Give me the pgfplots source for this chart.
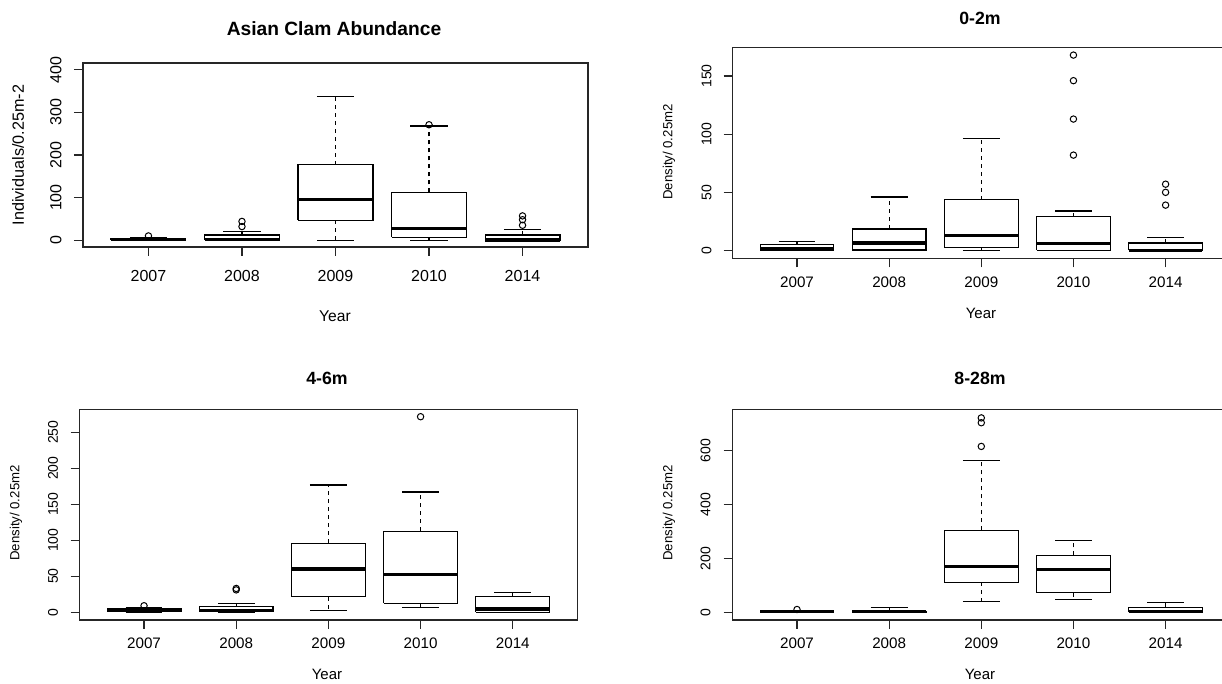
\documentclass[border=0pt]{standalone}
\usepackage{fontspec}
\setmainfont{Liberation Sans}
\usepackage{pgfplots}
\pgfplotsset{compat=1.18}
\pgfplotsset{
  rbox/.style={
    scale only axis, anchor=south west,
    xmin=0.3, xmax=5.7, unbounded coords=jump,
    xtick={1,2,3,4,5}, xticklabels={2007,2008,2009,2010,2014},
    tick align=outside, xtick pos=left, ytick pos=left,
    major tick length=4.5pt,
    /pgf/number format/assume math mode=true,
    axis line style={line width=0.6pt, black!85},
    tick style={line width=0.6pt, black!85},
    yticklabel style={rotate=90, anchor=south, inner sep=0pt},
    xticklabel style={anchor=north, inner sep=0pt},
  },
  bxs/.style={black, line width=0.6pt, solid, mark=none},
  med/.style={black, line width=1.6pt, solid, mark=none},
  wsk/.style={black, line width=0.6pt, dash pattern=on 2pt off 2pt, mark=none},
  outl/.style={black, only marks, mark=o, mark size=1.6pt, mark options={line width=0.5pt, solid}},
}
\begin{document}
\begin{tikzpicture}
% ---------- Panel 1: Asian Clam Abundance ----------
% five-number summaries (lw, lq, med, uq, uw):
% 2007: 0 0.5 2 4 7 | 2008: 0 0.5 2 12 20 | 2009: 0 47 96 177 338 | 2010: 0 7 28 112 268 | 2014: 0 0 0.5 12 26
\begin{axis}[rbox, at={(41.5pt,218.5pt)}, width=252.5pt, height=92pt,
  ymin=-16, ymax=416, ytick={0,100,200,300,400},
  ticklabel style={font=\fontsize{8}{9}\selectfont},
  xticklabel shift=7.2pt, yticklabel shift=6pt]
\addplot[wsk] coordinates {(1,4)(1,7) (nan,nan) (1,0.5)(1,0) (nan,nan) (2,12)(2,20) (nan,nan) (2,0.5)(2,0) (nan,nan)
  (3,177)(3,338) (nan,nan) (3,47)(3,0) (nan,nan) (4,112)(4,268) (nan,nan) (4,7)(4,0) (nan,nan) (5,12)(5,26)};
\addplot[bxs] coordinates {(0.8,7)(1.2,7) (nan,nan) (0.8,0)(1.2,0) (nan,nan) (1.8,20)(2.2,20) (nan,nan) (1.8,0)(2.2,0) (nan,nan)
  (2.8,338)(3.2,338) (nan,nan) (2.8,0)(3.2,0) (nan,nan) (3.8,268)(4.2,268) (nan,nan) (3.8,0)(4.2,0) (nan,nan) (4.8,26)(5.2,26) (nan,nan) (4.8,0)(5.2,0)};
\addplot[bxs] coordinates {(0.6,0.5)(1.4,0.5)(1.4,4)(0.6,4)(0.6,0.5) (nan,nan)
  (1.6,0.5)(2.4,0.5)(2.4,12)(1.6,12)(1.6,0.5) (nan,nan)
  (2.6,47)(3.4,47)(3.4,177)(2.6,177)(2.6,47) (nan,nan)
  (3.6,7)(4.4,7)(4.4,112)(3.6,112)(3.6,7) (nan,nan)
  (4.6,0)(5.4,0)(5.4,12)(4.6,12)(4.6,0)};
\addplot[med] coordinates {(0.6,2)(1.4,2) (nan,nan) (1.6,2)(2.4,2) (nan,nan) (2.6,96)(3.4,96) (nan,nan) (3.6,28)(4.4,28) (nan,nan) (4.6,0.5)(5.4,0.5)};
\addplot[outl] coordinates {(1,10) (2,32) (2,44) (4,271) (5,35) (5,48) (5,57)};
\end{axis}
% ---------- Panel 2: 0-2m ----------
% 2007: 0 0.3 2 5 8 | 2008: 0 0.5 6.4 18.5 46 | 2009: 0 2.6 13 43.6 96 | 2010: 0 0.3 5.8 29 34 | 2014: 0 0 0.3 6.4 11
\begin{axis}[rbox, at={(366.25pt,212.85pt)}, width=248.8pt, height=105.5pt,
  ymin=-6.7, ymax=174.7, ytick={0,50,100,150},
  xticklabel style={font=\fontsize{7.6}{9}\selectfont},
  yticklabel style={font=\fontsize{7}{8}\selectfont},
  xticklabel shift=4.35pt, yticklabel shift=5.8pt]
\addplot[wsk] coordinates {(1,5)(1,8) (nan,nan) (2,18.5)(2,46) (nan,nan) (2,0.5)(2,0) (nan,nan)
  (3,43.6)(3,96) (nan,nan) (3,2.6)(3,0) (nan,nan) (4,29)(4,34) (nan,nan) (5,6.4)(5,11)};
\addplot[bxs] coordinates {(0.8,8)(1.2,8) (nan,nan) (0.8,0)(1.2,0) (nan,nan) (1.8,46)(2.2,46) (nan,nan) (1.8,0)(2.2,0) (nan,nan)
  (2.8,96)(3.2,96) (nan,nan) (2.8,0)(3.2,0) (nan,nan) (3.8,34)(4.2,34) (nan,nan) (3.8,0)(4.2,0) (nan,nan) (4.8,11)(5.2,11) (nan,nan) (4.8,0)(5.2,0)};
\addplot[bxs] coordinates {(0.6,0.3)(1.4,0.3)(1.4,5)(0.6,5)(0.6,0.3) (nan,nan)
  (1.6,0.5)(2.4,0.5)(2.4,18.5)(1.6,18.5)(1.6,0.5) (nan,nan)
  (2.6,2.6)(3.4,2.6)(3.4,43.6)(2.6,43.6)(2.6,2.6) (nan,nan)
  (3.6,0.3)(4.4,0.3)(4.4,29)(3.6,29)(3.6,0.3) (nan,nan)
  (4.6,0)(5.4,0)(5.4,6.4)(4.6,6.4)(4.6,0)};
\addplot[med] coordinates {(0.6,2)(1.4,2) (nan,nan) (1.6,6.4)(2.4,6.4) (nan,nan) (2.6,13)(3.4,13) (nan,nan) (3.6,5.8)(4.4,5.8) (nan,nan) (4.6,0.3)(5.4,0.3)};
\addplot[outl] coordinates {(4,82) (4,113) (4,146) (4,168) (5,39) (5,50) (5,57)};
\end{axis}
% ---------- Panel 3: 4-6m ----------
% 2007: 0 1 3 5 6 | 2008: 0 0.5 2 7.4 12.5 | 2009: 2.8 21.4 60 95.8 176.7 | 2010: 7 12.5 52 112.5 167 | 2014: 0 0 4.6 21.4 27.5
\begin{axis}[rbox, at={(39.75pt,32pt)}, width=248.9pt, height=105.35pt,
  ymin=-10.8, ymax=281.8, ytick={0,50,100,150,200,250},
  xticklabel style={font=\fontsize{7.6}{9}\selectfont},
  yticklabel style={font=\fontsize{7}{8}\selectfont},
  xticklabel shift=4.35pt, yticklabel shift=6.1pt]
\addplot[wsk] coordinates {(1,5)(1,6) (nan,nan) (1,1)(1,0) (nan,nan) (2,7.4)(2,12.5) (nan,nan) (2,0.5)(2,0) (nan,nan)
  (3,95.8)(3,176.7) (nan,nan) (3,21.4)(3,2.8) (nan,nan) (4,112.5)(4,167) (nan,nan) (4,12.5)(4,7) (nan,nan) (5,21.4)(5,27.5)};
\addplot[bxs] coordinates {(0.8,6)(1.2,6) (nan,nan) (0.8,0)(1.2,0) (nan,nan) (1.8,12.5)(2.2,12.5) (nan,nan) (1.8,0)(2.2,0) (nan,nan)
  (2.8,176.7)(3.2,176.7) (nan,nan) (2.8,2.8)(3.2,2.8) (nan,nan) (3.8,167)(4.2,167) (nan,nan) (3.8,7)(4.2,7) (nan,nan) (4.8,27.5)(5.2,27.5) (nan,nan) (4.8,0)(5.2,0)};
\addplot[bxs] coordinates {(0.6,1)(1.4,1)(1.4,5)(0.6,5)(0.6,1) (nan,nan)
  (1.6,0.5)(2.4,0.5)(2.4,7.4)(1.6,7.4)(1.6,0.5) (nan,nan)
  (2.6,21.4)(3.4,21.4)(3.4,95.8)(2.6,95.8)(2.6,21.4) (nan,nan)
  (3.6,12.5)(4.4,12.5)(4.4,112.5)(3.6,112.5)(3.6,12.5) (nan,nan)
  (4.6,0)(5.4,0)(5.4,21.4)(4.6,21.4)(4.6,0)};
\addplot[med] coordinates {(0.6,3)(1.4,3) (nan,nan) (1.6,2)(2.4,2) (nan,nan) (2.6,60)(3.4,60) (nan,nan) (3.6,52)(4.4,52) (nan,nan) (4.6,4.6)(5.4,4.6)};
\addplot[outl] coordinates {(1,9) (2,31) (2,33) (4,271.5)};
\end{axis}
% ---------- Panel 4: 8-28m ----------
% 2007: 0 1 2 3 5 | 2008: 0 0.5 2 4 16 | 2009: 41 111.6 171 304 563 | 2010: 46 73 159 211 266.6 | 2014: 0 0 2.6 17.5 36
\begin{axis}[rbox, at={(366.25pt,32pt)}, width=248.8pt, height=105.35pt,
  ymin=-29, ymax=754, ytick={0,200,400,600},
  xticklabel style={font=\fontsize{7.6}{9}\selectfont},
  yticklabel style={font=\fontsize{7}{8}\selectfont},
  xticklabel shift=4.35pt, yticklabel shift=6.3pt]
\addplot[wsk] coordinates {(2,4)(2,16) (nan,nan)
  (3,304)(3,563) (nan,nan) (3,111.6)(3,41) (nan,nan) (4,211)(4,266.6) (nan,nan) (4,73)(4,46) (nan,nan) (5,17.5)(5,36)};
\addplot[bxs] coordinates {(0.8,5)(1.2,5) (nan,nan) (0.8,0)(1.2,0) (nan,nan) (1.8,16)(2.2,16) (nan,nan) (1.8,0)(2.2,0) (nan,nan)
  (2.8,563)(3.2,563) (nan,nan) (2.8,41)(3.2,41) (nan,nan) (3.8,266.6)(4.2,266.6) (nan,nan) (3.8,46)(4.2,46) (nan,nan) (4.8,36)(5.2,36) (nan,nan) (4.8,0)(5.2,0)};
\addplot[bxs] coordinates {(0.6,1)(1.4,1)(1.4,3)(0.6,3)(0.6,1) (nan,nan)
  (1.6,0.5)(2.4,0.5)(2.4,4)(1.6,4)(1.6,0.5) (nan,nan)
  (2.6,111.6)(3.4,111.6)(3.4,304)(2.6,304)(2.6,111.6) (nan,nan)
  (3.6,73)(4.4,73)(4.4,211)(3.6,211)(3.6,73) (nan,nan)
  (4.6,0)(5.4,0)(5.4,17.5)(4.6,17.5)(4.6,0)};
\addplot[med] coordinates {(0.6,2)(1.4,2) (nan,nan) (1.6,2)(2.4,2) (nan,nan) (2.6,171)(3.4,171) (nan,nan) (3.6,159)(4.4,159) (nan,nan) (4.6,2.6)(5.4,2.6)};
\addplot[outl] coordinates {(1,10) (3,616) (3,704) (3,722)};
\end{axis}
% ---------- Titles and labels ----------
\node[font=\fontsize{9.6}{11}\selectfont\bfseries] at (167pt,327.5pt) {Asian Clam Abundance};
\node[font=\fontsize{8.85}{10}\selectfont\bfseries] at (490pt,333pt) {0-2m};
\node[font=\fontsize{8.85}{10}\selectfont\bfseries] at (163.5pt,153pt) {4-6m};
\node[font=\fontsize{8.85}{10}\selectfont\bfseries] at (490pt,153pt) {8-28m};
\node[font=\fontsize{7.8}{9}\selectfont] at (167.5pt,184pt) {Year};
\node[font=\fontsize{7.5}{9}\selectfont] at (490.5pt,185.5pt) {Year};
\node[font=\fontsize{7.5}{9}\selectfont] at (163.5pt,5pt) {Year};
\node[font=\fontsize{7.5}{9}\selectfont] at (490pt,5pt) {Year};
\node[font=\fontsize{8.1}{9}\selectfont, rotate=90] at (9pt,264.5pt) {Individuals/0.25m-2};
\node[font=\fontsize{6.6}{8}\selectfont, rotate=90] at (334.5pt,266pt) {Density/ 0.25m2};
\node[font=\fontsize{6.6}{8}\selectfont, rotate=90] at (8pt,85.5pt) {Density/ 0.25m2};
\node[font=\fontsize{6.6}{8}\selectfont, rotate=90] at (334.5pt,85.5pt) {Density/ 0.25m2};
\pgfresetboundingbox
\path[use as bounding box] (0,0) rectangle (611pt,342pt);
\end{tikzpicture}
\end{document}
